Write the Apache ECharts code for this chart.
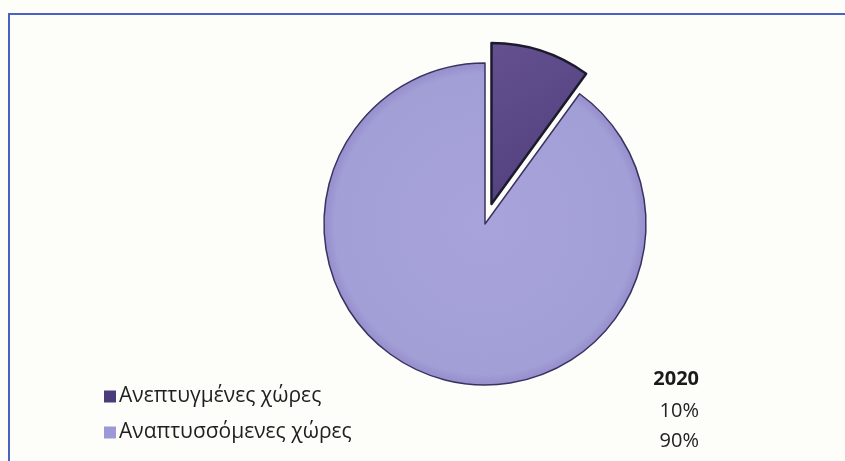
<!DOCTYPE html>
<html>
<head>
<meta charset="utf-8">
<script src="https://cdn.jsdelivr.net/npm/echarts@6/dist/echarts.min.js"></script>
<style>
  html, body { margin: 0; padding: 0; background: #fdfdf9; }
  #chart { width: 845px; height: 461px; }
</style>
</head>
<body>
<div id="chart"></div>
<script>
// Share of the two country groups in 2020
const year = '2020';
const categories = ['Ανεπτυγμένες χώρες', 'Αναπτυσσόμενες χώρες'];
const shares = [10, 90];

const sliceColors = [
  { type: 'linear', x: 0, y: 0, x2: 1, y2: 1,
    colorStops: [{ offset: 0, color: '#64508f' }, { offset: 1, color: '#4f3e7c' }] },
  { type: 'radial', x: 0.5, y: 0.5, r: 0.5,
    colorStops: [{ offset: 0, color: '#a8a4db' }, { offset: 0.93, color: '#a29ed6' }, { offset: 1, color: '#948ecb' }] }
];
const legendColors = ['#4a3c7a', '#9d98d6'];
const borders = [{ color: '#1e1a2e', width: 2.5 }, { color: '#3a3260', width: 1.5 }];

const chart = echarts.init(document.getElementById('chart'), null, { renderer: 'canvas' });

const fontFamily = '"Open Sans", "Noto Sans", sans-serif';

chart.setOption({
  backgroundColor: '#fdfdf9',
  animation: false,
  legend: {
    orient: 'vertical',
    left: 99,
    top: 381,
    itemWidth: 12,
    itemHeight: 12,
    itemGap: 15,
    icon: 'rect',
    selectedMode: false,
    textStyle: { fontFamily: fontFamily, fontSize: 21, color: '#1f1f1f', padding: [0, 0, 0, -2] },
    data: categories.map((c, i) => ({
      name: c,
      itemStyle: { color: legendColors[i], borderWidth: 0 }
    }))
  },
  graphic: [
    {
      type: 'rect', silent: true, z: -1,
      shape: { x: 9, y: 14, width: 900, height: 500 },
      style: { fill: 'none', stroke: '#4a63c2', lineWidth: 2 }
    },
    {
      type: 'text', right: 146, top: 369,
      style: { text: year, font: 'bold 20px ' + fontFamily, fill: '#1a1a1a', textAlign: 'right' }
    },
    ...shares.map((v, i) => ({
      type: 'text', right: 146, top: 401 + i * 30,
      style: { text: v + '%', font: '20px ' + fontFamily, fill: '#222222', textAlign: 'right' }
    }))
  ],
  series: [{
    type: 'pie',
    center: [485, 224],
    radius: 161,
    startAngle: 90,
    clockwise: true,
    selectedMode: 'single',
    selectedOffset: 21,
    label: { show: false },
    labelLine: { show: false },
    emphasis: { disabled: true },
    data: categories.map((c, i) => ({
      name: c,
      value: shares[i],
      selected: i === 0,
      itemStyle: { color: sliceColors[i], borderColor: borders[i].color, borderWidth: borders[i].width }
    }))
  }]
});
</script>
</body>
</html>
